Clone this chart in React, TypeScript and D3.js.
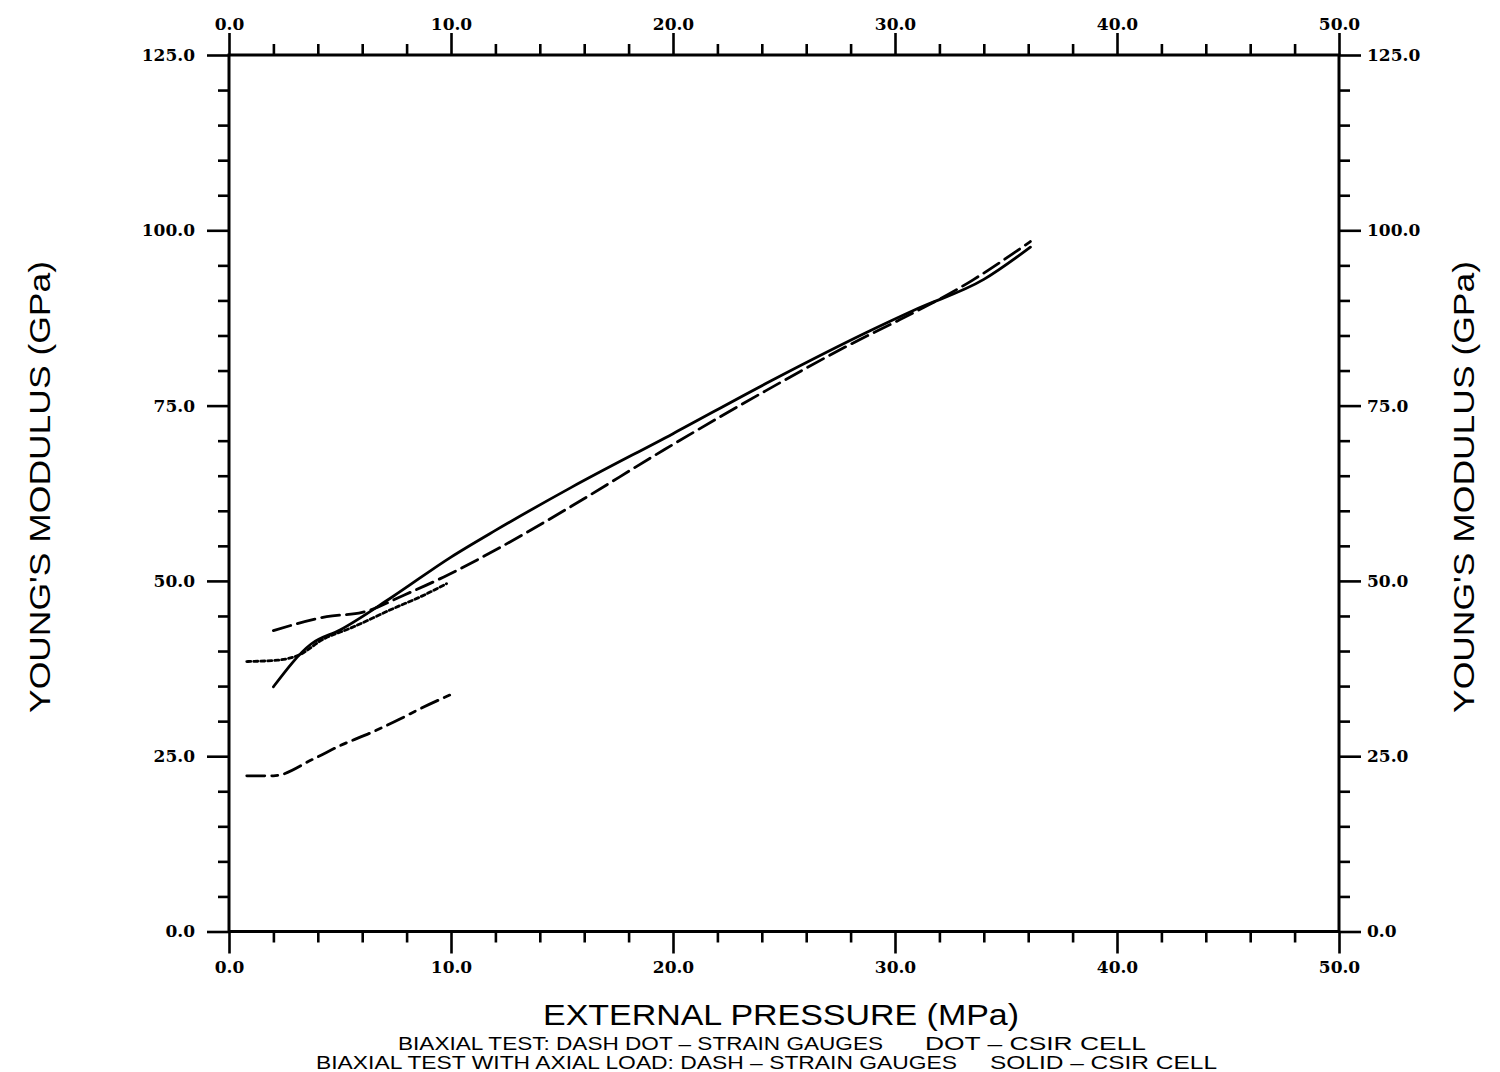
import React, { useEffect, useRef } from 'react';
import * as d3 from 'd3';

// Biaxial test with axial load: solid - CSIR cell
const solidX = [2.0, 3.7, 5.0, 7.3, 10.0, 12.0, 15.4, 20.0, 24.4, 28.9, 31.0, 34.0, 36.1];
const solidY = [34.9, 41.0, 43.0, 47.6, 53.4, 57.2, 63.3, 71.0, 78.5, 85.7, 88.8, 93.0, 97.6];

// Biaxial test with axial load: dash - strain gauges
const dashX = [2.0, 4.4, 6.0, 7.9, 9.7, 12.0, 15.4, 19.6, 24.0, 28.4, 30.0, 33.5, 36.1];
const dashY = [42.9, 44.9, 45.5, 48.0, 50.6, 54.4, 60.6, 68.7, 76.8, 84.4, 86.9, 92.9, 98.4];

// Biaxial test: dot - CSIR cell
const dotX = [0.8, 2.2, 3.2, 4.2, 5.5, 7.5, 8.6, 9.8];
const dotY = [38.5, 38.7, 39.5, 41.6, 43.3, 46.2, 47.7, 49.6];

// Biaxial test: dash dot - strain gauges
const dashDotX = [0.8, 2.0, 3.8, 5.0, 6.5, 7.7, 8.5, 10.0];
const dashDotY = [22.2, 22.2, 24.6, 26.5, 28.5, 30.3, 31.6, 33.8];

const xMajorTicks = [0, 10, 20, 30, 40, 50];
const yMajorTicks = [0, 25, 50, 75, 100, 125];

const App = () => {
  const svgRef = useRef<SVGSVGElement>(null);

  useEffect(() => {
    const svg = d3.select(svgRef.current);
    svg.selectAll('*').remove();

    const left = 229, right = 1339, top = 55, bottom = 931.5;

    const xScale = d3.scaleLinear().domain([0, 50]).range([left, right]);
    const yScale = d3.scaleLinear().domain([0, 125]).range([bottom, top]);

    const xMinor = d3.range(0, 51, 2).filter(v => v % 10 !== 0);
    const yMinor = d3.range(0, 126, 5).filter(v => v % 25 !== 0);
    const fmt = d3.format('.1f');

    const styleAxis = (g: any) => {
      g.select('.domain').remove();
      g.selectAll('line').attr('stroke', '#000').attr('stroke-width', 2.6);
      g.selectAll('text')
        .attr('fill', '#000')
        .style('font-family', '"DejaVu Serif", serif')
        .style('font-weight', 'bold')
        .style('font-size', '17px');
    };

    // Bottom axis
    svg.append('g').attr('transform', `translate(0,${bottom})`)
      .call(d3.axisBottom(xScale).tickValues(xMajorTicks).tickSize(22).tickPadding(7).tickFormat(fmt as any))
      .call(styleAxis);
    svg.append('g').attr('transform', `translate(0,${bottom})`)
      .call(d3.axisBottom(xScale).tickValues(xMinor).tickSize(11).tickFormat(() => ''))
      .call(styleAxis);

    // Top axis
    svg.append('g').attr('transform', `translate(0,${top})`)
      .call(d3.axisTop(xScale).tickValues(xMajorTicks).tickSize(22).tickPadding(3).tickFormat(fmt as any))
      .call(styleAxis);
    svg.append('g').attr('transform', `translate(0,${top})`)
      .call(d3.axisTop(xScale).tickValues(xMinor).tickSize(11).tickFormat(() => ''))
      .call(styleAxis);

    // Left axis
    svg.append('g').attr('transform', `translate(${left},0)`)
      .call(d3.axisLeft(yScale).tickValues(yMajorTicks).tickSize(22).tickPadding(12).tickFormat(fmt as any))
      .call(styleAxis);
    svg.append('g').attr('transform', `translate(${left},0)`)
      .call(d3.axisLeft(yScale).tickValues(yMinor).tickSize(11).tickFormat(() => ''))
      .call(styleAxis);

    // Right axis
    svg.append('g').attr('transform', `translate(${right},0)`)
      .call(d3.axisRight(yScale).tickValues(yMajorTicks).tickSize(22).tickPadding(6).tickFormat(fmt as any))
      .call(styleAxis);
    svg.append('g').attr('transform', `translate(${right},0)`)
      .call(d3.axisRight(yScale).tickValues(yMinor).tickSize(11).tickFormat(() => ''))
      .call(styleAxis);

    // Frame
    svg.append('rect')
      .attr('x', left).attr('y', top)
      .attr('width', right - left).attr('height', bottom - top)
      .attr('fill', 'none').attr('stroke', '#000').attr('stroke-width', 3);

    // Curves
    const line = d3.line<[number, number]>()
      .x(d => xScale(d[0]))
      .y(d => yScale(d[1]))
      .curve(d3.curveMonotoneX);

    const series = [
      { xs: solidX, ys: solidY, dash: null },
      { xs: dashX, ys: dashY, dash: '18,7' },
      { xs: dotX, ys: dotY, dash: '4,3' },
      { xs: dashDotX, ys: dashDotY, dash: '18,7,6,7' },
    ];

    series.forEach(s => {
      const pts = s.xs.map((x, i) => [x, s.ys[i]] as [number, number]);
      svg.append('path')
        .datum(pts)
        .attr('d', line)
        .attr('fill', 'none')
        .attr('stroke', '#000')
        .attr('stroke-width', 2.8)
        .attr('stroke-linecap', 'round')
        .attr('stroke-linejoin', 'round')
        .attr('stroke-dasharray', s.dash);
    });

    // Axis titles
    const sans = '"Liberation Sans", Arial, sans-serif';
    svg.append('text')
      .attr('transform', 'translate(50,487) rotate(-90)')
      .attr('text-anchor', 'middle')
      .attr('textLength', 452)
      .attr('lengthAdjust', 'spacingAndGlyphs')
      .style('font-family', sans)
      .style('font-size', '30px')
      .text("YOUNG'S MODULUS (GPa)");

    svg.append('text')
      .attr('transform', 'translate(1474,487) rotate(-90)')
      .attr('text-anchor', 'middle')
      .attr('textLength', 452)
      .attr('lengthAdjust', 'spacingAndGlyphs')
      .style('font-family', sans)
      .style('font-size', '30px')
      .text("YOUNG'S MODULUS (GPa)");

    svg.append('text')
      .attr('x', 781).attr('y', 1025)
      .attr('text-anchor', 'middle')
      .attr('textLength', 476)
      .attr('lengthAdjust', 'spacingAndGlyphs')
      .style('font-family', sans)
      .style('font-size', '29px')
      .text('EXTERNAL PRESSURE (MPa)');

    // Legend notes
    const notes = [
      { x: 398, y: 1050, w: 485, t: 'BIAXIAL TEST: DASH DOT \u2013 STRAIN GAUGES' },
      { x: 925, y: 1050, w: 221, t: 'DOT \u2013 CSIR CELL' },
      { x: 316, y: 1069, w: 641, t: 'BIAXIAL TEST WITH AXIAL LOAD: DASH \u2013 STRAIN GAUGES' },
      { x: 990, y: 1069, w: 227, t: 'SOLID \u2013 CSIR CELL' },
    ];
    notes.forEach(n => {
      svg.append('text')
        .attr('x', n.x).attr('y', n.y)
        .attr('textLength', n.w)
        .attr('lengthAdjust', 'spacingAndGlyphs')
        .style('font-family', sans)
        .style('font-size', '18px')
        .text(n.t);
    });
  }, []);

  return (
    <svg
      ref={svgRef}
      width={1500}
      height={1072}
      style={{ position: 'absolute', left: 0, top: 0, background: '#fff' }}
    />
  );
};

export default App;
